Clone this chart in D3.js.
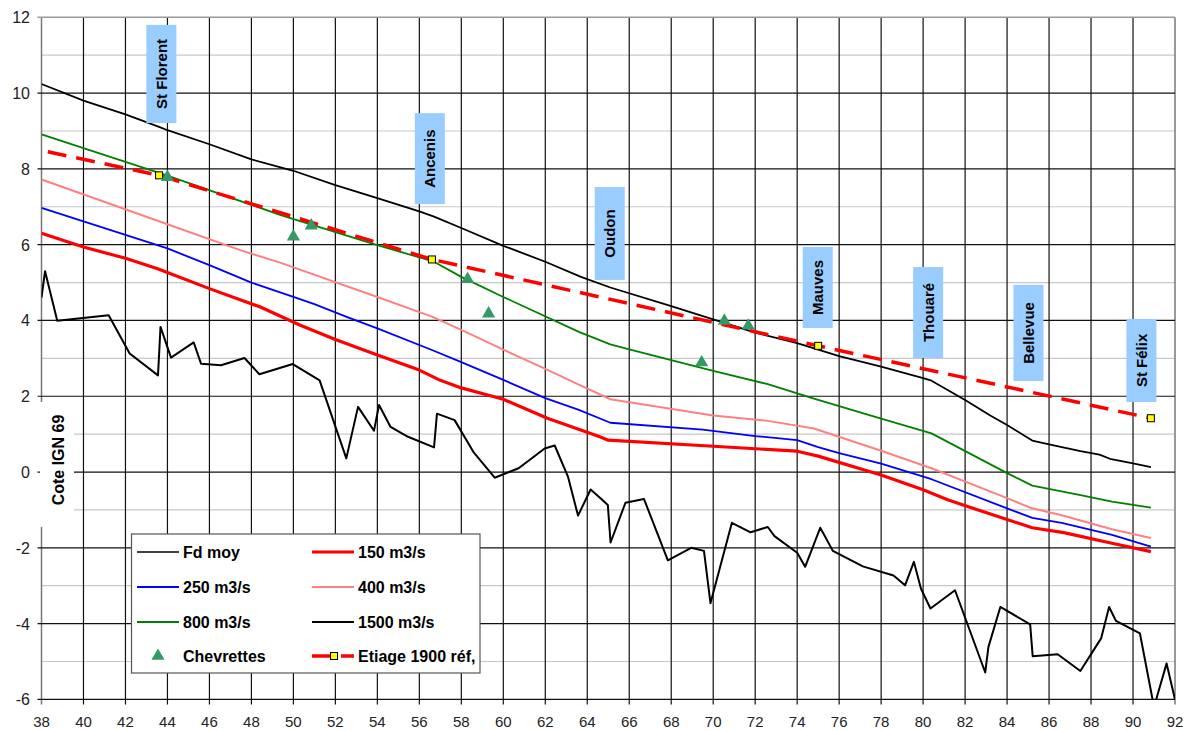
<!DOCTYPE html>
<html>
<head>
<meta charset="utf-8">
<script src="https://cdn.jsdelivr.net/npm/d3@7"></script>
<style>
  body { margin: 0; background: #fff; }
  svg text { font-family: "Liberation Sans", Arial, sans-serif; }
</style>
</head>
<body>
<div id="chart"></div>
<script>
// [PK km, cote m]
const fdMoy = [[38.0,4.6],[38.17,5.3],[38.75,3.99],[41.2,4.14],[42.2,3.13],[43.55,2.55],[43.67,3.83],[44.17,3.02],[45.25,3.42],[45.6,2.86],[46.55,2.82],[47.67,3.01],[48.38,2.58],[49.97,2.85],[51.25,2.42],[52.52,0.36],[53.08,1.72],[53.84,1.09],[54.08,1.77],[54.63,1.19],[55.46,0.93],[56.7,0.65],[56.84,1.54],[57.68,1.37],[58.6,0.51],[59.59,-0.15],[60.73,0.10],[61.97,0.62],[62.45,0.70],[63.08,-0.12],[63.56,-1.15],[64.16,-0.46],[64.67,-0.71],[64.98,-0.87],[65.11,-1.86],[65.82,-0.81],[66.7,-0.71],[67.84,-2.33],[68.95,-2.0],[69.56,-2.08],[69.87,-3.46],[70.89,-1.34],[71.78,-1.59],[72.6,-1.45],[72.92,-1.69],[74.0,-2.13],[74.38,-2.50],[75.1,-1.47],[75.7,-2.08],[77.13,-2.49],[78.59,-2.73],[79.14,-2.99],[79.56,-2.37],[79.9,-3.08],[80.35,-3.60],[81.52,-3.12],[82.96,-5.29],[83.11,-4.62],[83.68,-3.56],[85.1,-4.02],[85.22,-4.86],[86.41,-4.81],[87.49,-5.25],[88.48,-4.39],[88.86,-3.56],[89.19,-3.93],[90.33,-4.26],[91.0,-6.2],[91.6,-5.05],[92.04,-6.1]];
const q150 = [[38,6.30],[40,5.94],[42,5.64],[43.5,5.37],[46,4.84],[48.4,4.36],[50.3,3.88],[52,3.5],[54,3.09],[56,2.69],[57,2.42],[58,2.22],[60,1.92],[62.1,1.42],[64.6,0.93],[65,0.84],[70,0.68],[74,0.55],[75,0.42],[78,-0.08],[80,-0.47],[81.2,-0.74],[83.1,-1.09],[85.2,-1.47],[86.7,-1.60],[89,-1.88],[90.85,-2.10]];
const q250 = [[38,6.97],[44,5.90],[46,5.46],[48,5.0],[50,4.62],[51,4.43],[52.6,4.08],[54,3.79],[56.6,3.22],[58,2.9],[60,2.43],[62,1.95],[63.6,1.64],[65.1,1.30],[69.5,1.12],[72,0.95],[74,0.84],[75,0.66],[76,0.50],[78,0.22],[80.4,-0.19],[84,-0.96],[85.2,-1.21],[86.6,-1.34],[89,-1.66],[90.85,-1.97]];
const q400 = [[38,7.72],[44,6.54],[47.5,5.85],[49.4,5.52],[54,4.62],[56.6,4.10],[58,3.75],[60,3.23],[62,2.72],[63.7,2.28],[65.1,1.92],[70,1.49],[72.6,1.35],[74.8,1.15],[78,0.56],[80.4,0.10],[84,-0.69],[85.1,-0.94],[86.6,-1.14],[89,-1.51],[90.85,-1.74]];
const q800 = [[38,8.91],[44,7.82],[49.4,6.78],[54,5.99],[56.7,5.55],[58,5.15],[60,4.62],[63.6,3.70],[65.1,3.37],[66,3.24],[70,2.67],[72.6,2.32],[74.8,1.94],[78,1.41],[80.4,1.02],[84,-0.03],[85.2,-0.36],[87.5,-0.61],[89,-0.78],[90.85,-0.94]];
const q1500 = [[38,10.24],[40,9.8],[42,9.44],[43.6,9.11],[44,9.02],[46,8.65],[48,8.25],[50,7.95],[52,7.57],[54,7.23],[56,6.88],[56.7,6.74],[58,6.44],[60,5.97],[62,5.55],[63.7,5.15],[65.1,4.87],[68,4.38],[70,4.03],[72,3.68],[74,3.40],[76,3.06],[78,2.78],[80,2.48],[80.4,2.41],[82,1.90],[83.2,1.49],[84,1.24],[85.2,0.83],[86,0.73],[87.5,0.55],[88.4,0.46],[88.9,0.35],[90,0.23],[90.85,0.13]];
const etiage = [[38.3,8.45],[43.6,7.83],[56.6,5.61],[75,3.33],[90.85,1.42]];
const etiageMarked = [false, true, true, true, true];
const chevrettes = [[44.0,7.78],[50.0,6.21],[50.85,6.50],[58.3,5.09],[59.3,4.18],[69.45,2.89],[70.53,3.99],[71.67,3.86]];

const places = ["St Florent", "Ancenis", "Oudon", "Mauves", "Thouaré", "Bellevue", "St Félix"];
const placeKm = [43.71, 56.5, 65.07, 74.98, 80.24, 85.02, 90.4];
const placeTop = [11.8, 9.47, 7.52, 5.94, 5.41, 4.94, 4.04];
const placeBottom = [9.21, 7.07, 5.07, 3.80, 3.01, 2.40, 1.85];

const xTicks = d3.range(38, 93, 2);
const yTicks = d3.range(-6, 13, 2);
const yMinor = d3.range(-5, 12, 2);

const legendLabels = ["Fd moy", "150 m3/s", "250 m3/s", "400 m3/s", "800 m3/s", "1500 m3/s", "Chevrettes", "Etiage 1900 réf,"];

(function () {
  const W = 1186, H = 731;
  const plot = { left: 41.5, right: 1175, top: 17.3, bottom: 699.4 };

  const svg = d3.select("#chart").append("svg")
    .attr("width", W)
    .attr("height", H);

  const x = d3.scaleLinear().domain([38, 92]).range([plot.left, plot.right]);
  const y = d3.scaleLinear().domain([-6, 12]).range([plot.bottom, plot.top]);

  svg.append("defs").append("clipPath")
    .attr("id", "clip")
    .append("rect")
    .attr("x", plot.left).attr("y", plot.top)
    .attr("width", plot.right - plot.left)
    .attr("height", plot.bottom - plot.top);

  // grid
  const grid = svg.append("g");
  grid.selectAll(".hmin").data(yMinor).join("line")
    .attr("x1", plot.left).attr("x2", plot.right)
    .attr("y1", d => y(d)).attr("y2", d => y(d))
    .attr("stroke", "#c8c8c8").attr("stroke-width", 1.2);
  grid.selectAll(".v").data(xTicks).join("line")
    .attr("x1", d => x(d)).attr("x2", d => x(d))
    .attr("y1", plot.top).attr("y2", plot.bottom + 5)
    .attr("stroke", d => d === 38 || d === 92 ? "#777" : "#111")
    .attr("stroke-width", d => d === 38 || d === 92 ? 1.5 : 1.2);
  grid.selectAll(".hmaj").data(yTicks).join("line")
    .attr("x1", plot.left - 4).attr("x2", plot.right)
    .attr("y1", d => y(d)).attr("y2", d => y(d))
    .attr("stroke", d => d === 12 ? "#999" : "#111")
    .attr("stroke-width", d => d === 12 ? 1.5 : 1.2);

  // tick labels
  svg.append("g").selectAll("text").data(yTicks).join("text")
    .attr("x", 30).attr("y", d => y(d) + 6)
    .attr("text-anchor", "end")
    .style("font-size", "16px").attr("fill", "#222")
    .text(d => d);
  svg.append("g").selectAll("text").data(xTicks).join("text")
    .attr("x", d => x(d)).attr("y", 727)
    .attr("text-anchor", "middle")
    .style("font-size", "15px").attr("fill", "#222")
    .text(d => d);

  // series
  const line = d3.line().x(d => x(d[0])).y(d => y(d[1]));
  const lines = svg.append("g").attr("clip-path", "url(#clip)");
  const styles = [
    { data: fdMoy, color: "#000", width: 2 },
    { data: q150, color: "#ff0000", width: 3.2 },
    { data: q250, color: "#0000ff", width: 1.8 },
    { data: q400, color: "#ff8080", width: 2 },
    { data: q800, color: "#008000", width: 1.8 },
    { data: q1500, color: "#000", width: 1.8 }
  ];
  styles.forEach(s => {
    lines.append("path")
      .datum(s.data)
      .attr("fill", "none")
      .attr("stroke", s.color)
      .attr("stroke-width", s.width)
      .attr("stroke-linejoin", "round")
      .attr("d", line);
  });

  lines.append("path")
    .datum(etiage)
    .attr("fill", "none")
    .attr("stroke", "#ff0000")
    .attr("stroke-width", 3.5)
    .attr("stroke-dasharray", "19,10")
    .attr("d", line);

  lines.selectAll(".mk").data(etiage.filter((d, i) => etiageMarked[i])).join("rect")
    .attr("x", d => x(d[0]) - 3.5).attr("y", d => y(d[1]) - 3.5)
    .attr("width", 7).attr("height", 7)
    .attr("fill", "#ffff00").attr("stroke", "#000").attr("stroke-width", 1);

  const tri = d3.symbol().type(d3.symbolTriangle).size(75);
  lines.selectAll(".tri").data(chevrettes).join("path")
    .attr("d", tri)
    .attr("transform", d => `translate(${x(d[0])},${y(d[1])})`)
    .attr("fill", "#339966");

  // place labels
  places.forEach((name, i) => {
    const cx = x(placeKm[i]);
    const y0 = y(placeTop[i]), y1 = y(placeBottom[i]);
    svg.append("rect")
      .attr("x", cx - 15).attr("y", y0)
      .attr("width", 30).attr("height", y1 - y0)
      .attr("fill", "#99ccff");
    svg.append("text")
      .attr("transform", `translate(${cx + 5.5},${(y0 + y1) / 2}) rotate(-90)`)
      .attr("text-anchor", "middle")
      .style("font-size", "15px").style("font-weight", "700")
      .text(name);
  });

  // y title with white background
  svg.append("rect")
    .attr("x", 40).attr("y", 402).attr("width", 34).attr("height", 125)
    .attr("fill", "#fff");
  svg.append("text")
    .attr("transform", `translate(63.5,460) rotate(-90)`)
    .attr("text-anchor", "middle")
    .style("font-size", "16px").style("font-weight", "700")
    .text("Cote IGN 69");

  // legend
  const lg = svg.append("g");
  lg.append("rect")
    .attr("x", 131.5).attr("y", 534).attr("width", 348.5).attr("height", 139)
    .attr("fill", "#fff").attr("stroke", "#555").attr("stroke-width", 1.2);
  const rowY = [552, 587, 622, 656];
  const colX = [137, 312];
  const sw = [
    { color: "#000", width: 1.6 }, { color: "#ff0000", width: 3.2 },
    { color: "#0000ff", width: 1.8 }, { color: "#ff8080", width: 2 },
    { color: "#008000", width: 1.8 }, { color: "#000", width: 1.8 }
  ];
  legendLabels.forEach((label, i) => {
    const cx = colX[i % 2], cy = rowY[Math.floor(i / 2)];
    if (i < 6) {
      lg.append("line")
        .attr("x1", cx).attr("x2", cx + 42).attr("y1", cy).attr("y2", cy)
        .attr("stroke", sw[i].color).attr("stroke-width", sw[i].width);
    } else if (i === 6) {
      lg.append("path").attr("d", tri)
        .attr("transform", `translate(${cx + 21},${cy})`)
        .attr("fill", "#339966");
    } else {
      lg.append("line")
        .attr("x1", cx).attr("x2", cx + 42).attr("y1", cy).attr("y2", cy)
        .attr("stroke", "#ff0000").attr("stroke-width", 3.5)
        .attr("stroke-dasharray", "19,10");
      lg.append("rect")
        .attr("x", cx + 18.5).attr("y", cy - 3.5).attr("width", 7).attr("height", 7)
        .attr("fill", "#ffff00").attr("stroke", "#000");
    }
    lg.append("text")
      .attr("x", cx + 46).attr("y", cy + 6)
      .style("font-size", "16px").style("font-weight", "700")
      .text(label);
  });
})();
</script>
</body>
</html>
